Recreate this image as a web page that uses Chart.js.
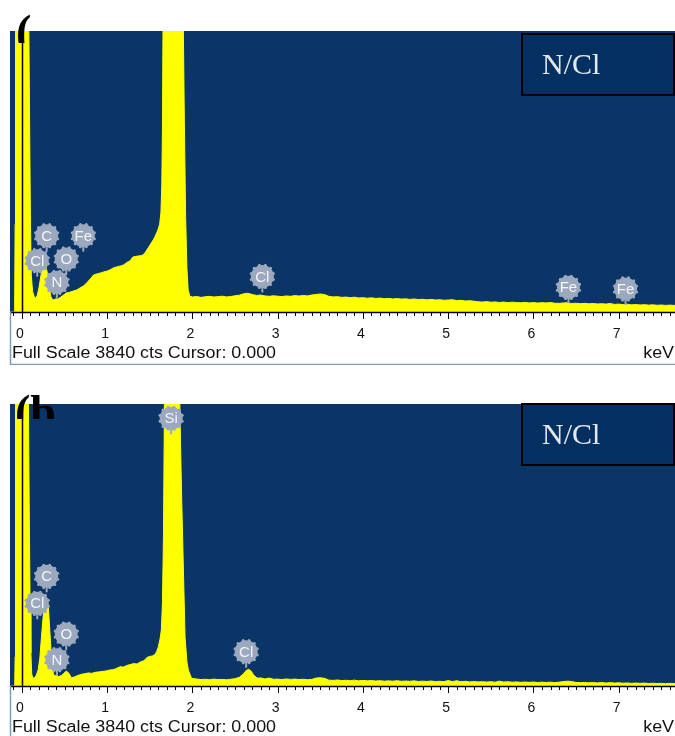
<!DOCTYPE html>
<html>
<head>
<meta charset="utf-8">
<title>EDS spectra N/Cl</title>
<script src="https://cdn.jsdelivr.net/npm/chart.js@4.4.1/dist/chart.umd.min.js"></script>
<style>
  html, body { margin: 0; padding: 0; background: #ffffff; }
  #wrap { position: relative; width: 675px; height: 736px; overflow: hidden; }
  .panel { position: absolute; left: 0; width: 675px; }
  #pa { top: 0; height: 365px; }
  #pb { top: 373px; height: 363px; }
</style>
</head>
<body>
<div id="wrap">
  <div class="panel" id="pa"><canvas id="ca"></canvas></div>
  <div class="panel" id="pb"><canvas id="cb"></canvas></div>
</div>
<script>
// ---- spectrum (a): energy in keV, intensity in counts (off-scale samples kept just above full scale) ----
const energyA = [-0.14, -0.09, -0.085, -0.08, -0.075, -0.06, 0.0, 0.06, 0.08, 0.09, 0.10, 0.11, 0.125, 0.145, 0.165,
  0.18, 0.20, 0.22, 0.24, 0.26, 0.28, 0.30, 0.32, 0.34, 0.36, 0.38, 0.40, 0.42, 0.45, 0.48, 0.52, 0.56, 0.59, 0.64,
  0.68, 0.72, 0.76, 0.80, 0.84, 0.88, 0.92, 0.96, 1.00, 1.04, 1.07, 1.12, 1.16, 1.19, 1.24, 1.27, 1.30, 1.33, 1.36,
  1.39, 1.42, 1.45, 1.48, 1.51, 1.54, 1.56, 1.58, 1.60, 1.615, 1.63, 1.64, 1.648, 1.655, 1.67, 1.72, 1.78, 1.84,
  1.88, 1.893, 1.905, 1.92, 1.935, 1.95, 1.97,
  2.00, 2.05, 2.10, 2.15, 2.20, 2.25, 2.30, 2.35, 2.40, 2.45, 2.50, 2.55, 2.60, 2.65, 2.70, 2.75, 2.80, 2.85, 2.90,
  2.95, 3.00, 3.05, 3.10, 3.15, 3.20, 3.25, 3.30, 3.35, 3.40, 3.45, 3.50, 3.55, 3.60, 3.65, 3.70, 3.75, 3.80, 3.85,
  3.90, 3.95, 4.00, 4.05, 4.10, 4.15, 4.20, 4.25, 4.30, 4.35, 4.40, 4.45, 4.50, 4.55, 4.60, 4.65, 4.70, 4.75, 4.80,
  4.85, 4.90, 4.95, 5.00, 5.05, 5.10, 5.15, 5.20, 5.25, 5.30, 5.35, 5.40, 5.45, 5.50, 5.55, 5.60, 5.65, 5.70, 5.75,
  5.80, 5.85, 5.90, 5.95, 6.00, 6.05, 6.10, 6.15, 6.20, 6.25, 6.30, 6.35, 6.40, 6.45, 6.50, 6.55, 6.60, 6.65, 6.70,
  6.75, 6.80, 6.85, 6.90, 6.95, 7.00, 7.05, 7.10, 7.15, 7.20, 7.25, 7.30, 7.35, 7.40, 7.45, 7.50, 7.55, 7.60, 7.65, 7.70];
const countsA = [0, 0, 150, 1200, 3950, 4600, 4600, 4600, 4000, 2600, 1200, 500, 280, 210, 190,
  230, 330, 480, 600, 660, 640, 520, 340, 210, 165, 170, 180, 176, 200, 225, 260, 270, 282, 300,
  328, 355, 396, 450, 506, 520, 533, 548, 560, 580, 601, 620, 630, 642, 683, 700, 752, 758, 765,
  770, 779, 820, 875, 930, 984, 1030, 1080, 1140, 1200, 1353, 1709, 2500, 3950, 4600, 4600, 4600, 4600,
  4600, 3900, 2600, 1300, 600, 300, 215,
  205, 212, 200, 208, 214, 205, 210, 216, 206, 212, 222, 230, 248, 256, 240, 226, 232, 220, 214,
  222, 216, 210, 220, 214, 224, 218, 226, 220, 232, 240, 246, 238, 214, 206, 210, 200, 204, 196,
  202, 192, 196, 188, 194, 185, 190, 182, 186, 178, 184, 176, 180, 172, 178, 170, 174, 166, 172,
  164, 168, 160, 164, 168, 156, 160, 150, 155, 148, 140, 136, 142, 134, 138, 130, 136, 128, 134,
  130, 126, 132, 124, 130, 122, 128, 124, 130, 120, 118, 124, 126, 116, 120, 114, 118, 112, 116,
  110, 114, 108, 116, 104, 108, 100, 106, 98, 102, 96, 100, 94, 98, 92, 96, 90, 94, 90, 92];

// ---- spectrum (b) ----
const energyB = [-0.14, -0.085, -0.08, -0.075, 0.0, 0.06, 0.075, 0.085, 0.095, 0.105, 0.115, 0.13, 0.15, 0.17,
  0.19, 0.21, 0.23, 0.25, 0.27, 0.29, 0.31, 0.33, 0.35, 0.37, 0.39, 0.41, 0.43, 0.46, 0.49, 0.52, 0.55, 0.58,
  0.62, 0.66, 0.70, 0.74, 0.78, 0.82, 0.86, 0.90, 0.94, 0.98, 1.03, 1.07, 1.11, 1.15, 1.19, 1.23, 1.27, 1.31,
  1.35, 1.39, 1.43, 1.47, 1.50, 1.53, 1.56, 1.58, 1.60, 1.62, 1.635, 1.648, 1.66, 1.672, 1.70, 1.76, 1.82,
  1.845, 1.86, 1.875, 1.894, 1.913, 1.935, 1.952, 1.99,
  2.05, 2.10, 2.15, 2.20, 2.25, 2.30, 2.35, 2.40, 2.45, 2.50, 2.55, 2.60, 2.63, 2.66, 2.69, 2.72, 2.76, 2.80,
  2.85, 2.90, 2.95, 3.00, 3.05, 3.10, 3.15, 3.20, 3.25, 3.30, 3.35, 3.40, 3.45, 3.50, 3.55, 3.60, 3.65, 3.70,
  3.75, 3.80, 3.85, 3.90, 3.95, 4.00, 4.05, 4.10, 4.15, 4.20, 4.25, 4.30, 4.35, 4.40, 4.45, 4.50, 4.55, 4.60,
  4.65, 4.70, 4.75, 4.80, 4.85, 4.90, 4.95, 5.00, 5.05, 5.10, 5.15, 5.20, 5.25, 5.30, 5.35, 5.40, 5.45, 5.50,
  5.55, 5.60, 5.65, 5.70, 5.75, 5.80, 5.85, 5.90, 5.95, 6.00, 6.05, 6.10, 6.15, 6.20, 6.25, 6.30, 6.35, 6.40,
  6.45, 6.50, 6.55, 6.60, 6.65, 6.70, 6.75, 6.80, 6.85, 6.90, 6.95, 7.00, 7.05, 7.10, 7.15, 7.20, 7.25, 7.30,
  7.35, 7.40, 7.45, 7.50, 7.55, 7.60, 7.65, 7.70];
const countsB = [0, 0, 400, 4600, 4600, 4600, 4000, 2500, 1200, 450, 160, 105, 115, 150,
  218, 380, 680, 960, 1150, 1190, 1080, 700, 300, 160, 140, 150, 128, 140, 170, 205, 175, 112,
  125, 145, 160, 168, 178, 172, 186, 192, 198, 204, 218, 222, 240, 262, 258, 280, 292, 305,
  300, 328, 345, 390, 402, 410, 430, 470, 535, 640, 760, 1130, 2030, 3950, 4600, 4600, 4600,
  4300, 3300, 2490, 1580, 671, 330, 218, 105,
  95, 88, 92, 86, 94, 88, 90, 85, 92, 100, 118, 168, 212, 228, 202, 145, 108, 110,
  96, 108, 92, 94, 88, 96, 90, 94, 88, 92, 86, 90, 108, 112, 104, 80, 76, 82,
  74, 78, 72, 80, 70, 76, 70, 74, 68, 72, 66, 70, 66, 72, 64, 68, 64, 70,
  62, 66, 62, 68, 60, 64, 60, 74, 60, 72, 58, 64, 56, 60, 56, 58, 54, 58,
  52, 66, 54, 58, 52, 56, 50, 54, 50, 54, 48, 52, 48, 52, 46, 52, 60, 66,
  60, 48, 46, 48, 44, 46, 42, 48, 40, 46, 40, 44, 38, 42, 36, 40, 36, 40,
  34, 38, 34, 36, 32, 36, 34, 34];

// ---- element line markers: symbol, energy (keV), counts at the stem tip ----
const markerNamesA = ['Cl', 'C', 'N', 'O', 'Fe', 'Cl', 'Fe', 'Fe'];
const markerEnergyA = [0.18, 0.29, 0.41, 0.52, 0.72, 2.82, 6.41, 7.08];
const markerCountsA = [483, 824, 187, 506, 824, 267, 119, 96];

const markerNamesB = ['Si', 'C', 'Cl', 'O', 'N', 'Cl'];
const markerEnergyB = [1.75, 0.29, 0.18, 0.52, 0.41, 2.63];
const markerCountsB = [3428, 1276, 908, 490, 140, 249];

// ---- axis ----
const energyTicks = [0, 1, 2, 3, 4, 5, 6, 7];
const fullScaleCounts = 3840;
const energyMin = -0.14, energyMax = 7.66;
const sampleLabel = 'N/Cl';
const footerText = 'Full Scale 3840 cts Cursor: 0.000';
const unitText = 'keV';

const BLUE = '#0a3566';
const BOX_BLUE = '#033060';
const YELLOW = '#ffff00';
const GREY = '#9ba8bd';

function drawMarker(ctx, x, tipY, label) {
  const cy = tipY - 16, r = 11.5;
  ctx.save();
  ctx.strokeStyle = GREY;
  ctx.lineWidth = 2;
  ctx.beginPath();
  ctx.moveTo(x, cy + r - 2);
  ctx.lineTo(x, tipY);
  ctx.stroke();
  ctx.fillStyle = GREY;
  ctx.beginPath();
  ctx.arc(x, cy, r, 0, Math.PI * 2);
  ctx.fill();
  for (let k = 0; k < 12; k++) {
    const a = k * Math.PI / 6 + Math.PI / 12;
    ctx.beginPath();
    ctx.arc(x + Math.cos(a) * r, cy + Math.sin(a) * r, 1.5, 0, Math.PI * 2);
    ctx.fill();
  }
  ctx.fillStyle = '#f3f5f9';
  ctx.font = '15px "Liberation Sans", Arial, sans-serif';
  ctx.textAlign = 'center';
  ctx.textBaseline = 'middle';
  ctx.fillText(label, x, cy + 1);
  ctx.restore();
}

function makeDecor(cfg) {
  return {
    id: 'spectrumDecor',
    beforeDraw(chart) {
      const { ctx, chartArea: a } = chart;
      ctx.save();
      ctx.fillStyle = BLUE;
      ctx.fillRect(a.left, a.top, a.right - a.left, a.bottom - a.top);
      ctx.restore();
    },
    afterDatasetsDraw(chart) {
      const { ctx, chartArea: a } = chart;
      const xs = chart.scales.x, ys = chart.scales.y;
      ctx.save();

      // cursor line at 0 keV
      const x0 = Math.round(xs.getPixelForValue(0)) + 0.5;
      ctx.strokeStyle = '#000';
      ctx.lineWidth = 1.5;
      ctx.beginPath();
      ctx.moveTo(x0, a.top);
      ctx.lineTo(x0, a.bottom);
      ctx.stroke();

      // element markers
      cfg.names.forEach((n, i) => {
        drawMarker(ctx, xs.getPixelForValue(cfg.energy[i]), ys.getPixelForValue(cfg.counts[i]), n);
      });

      // sample label box
      const bx = 522, by = a.top + cfg.boxOffset, bh = 61;
      ctx.fillStyle = BOX_BLUE;
      ctx.fillRect(bx, by, 160, bh);
      ctx.strokeStyle = '#000';
      ctx.lineWidth = 2;
      ctx.strokeRect(bx, by, 152, bh);
      ctx.fillStyle = '#e4e8ee';
      ctx.font = '30px "Liberation Serif", "Times New Roman", serif';
      ctx.textAlign = 'left';
      ctx.textBaseline = 'alphabetic';
      ctx.fillText(sampleLabel, 542, by + 40);

      // energy axis line and tick marks
      const yb = a.bottom;
      ctx.strokeStyle = '#000';
      ctx.lineWidth = 1.5;
      ctx.beginPath();
      ctx.moveTo(a.left, yb + 0.5);
      ctx.lineTo(a.right, yb + 0.5);
      ctx.stroke();
      ctx.lineWidth = 1;
      for (let i = -1; i <= 77; i++) {
        const e = i / 10;
        if (e < energyMin || e > energyMax) continue;
        const px = Math.round(xs.getPixelForValue(e)) + 0.5;
        const len = (i % 10 === 0) ? 7 : 4;
        ctx.beginPath();
        ctx.moveTo(px, yb);
        ctx.lineTo(px, yb + len);
        ctx.stroke();
      }

      // footer texts
      ctx.fillStyle = '#111';
      ctx.font = '16px "Liberation Sans", Arial, sans-serif';
      ctx.textBaseline = 'middle';
      ctx.textAlign = 'left';
      const w = ctx.measureText(footerText).width;
      const sx = 264 / w;
      ctx.save();
      ctx.translate(12, yb + 42);
      ctx.scale(sx, 1);
      ctx.fillText(footerText, 0, 0);
      ctx.restore();
      ctx.save();
      ctx.translate(674, yb + 42);
      ctx.scale(sx, 1);
      ctx.textAlign = 'right';
      ctx.fillText(unitText, 0, 0);
      ctx.restore();

      // panel frame below the axis
      ctx.strokeStyle = '#7f9bbd';
      ctx.lineWidth = 1.5;
      ctx.beginPath();
      ctx.moveTo(a.left + 0.5, yb);
      ctx.lineTo(a.left + 0.5, yb + 53);
      if (cfg.bottomLine) {
        ctx.moveTo(a.left, yb + 52.5);
        ctx.lineTo(675, yb + 52.5);
      }
      ctx.stroke();

      // panel tag
      ctx.save();
      ctx.beginPath();
      ctx.rect(0, 0, 675, cfg.tagClip);
      ctx.clip();
      ctx.fillStyle = '#000';
      ctx.font = 'bold 46px "Liberation Serif", "Times New Roman", serif';
      ctx.textAlign = 'left';
      ctx.textBaseline = 'alphabetic';
      ctx.fillText(cfg.tag, cfg.tagX, cfg.tagBase);
      ctx.restore();

      ctx.restore();
    }
  };
}

function makeChart(canvasId, energy, counts, axisHeight, decor) {
  const points = energy.map((e, i) => ({ x: e, y: counts[i] }));
  return new Chart(document.getElementById(canvasId), {
    type: 'line',
    data: {
      datasets: [{
        data: points,
        borderColor: YELLOW,
        backgroundColor: YELLOW,
        borderWidth: 1,
        fill: 'origin',
        pointRadius: 0,
        tension: 0
      }]
    },
    options: {
      responsive: true,
      maintainAspectRatio: false,
      animation: false,
      devicePixelRatio: 1,
      layout: { padding: { top: 31, left: 10, right: 0, bottom: 0 } },
      plugins: { legend: { display: false }, tooltip: { enabled: false } },
      events: [],
      scales: {
        x: {
          type: 'linear',
          min: energyMin,
          max: energyMax,
          grid: { display: false, drawTicks: false },
          border: { display: false },
          afterBuildTicks: s => { s.ticks = energyTicks.map(v => ({ value: v })); },
          ticks: {
            autoSkip: false,
            maxRotation: 0,
            padding: 14,
            labelOffset: -2,
            color: '#111',
            font: { family: '"Liberation Sans", Arial, sans-serif', size: 14 },
            callback: v => String(v)
          },
          afterFit: s => { s.height = axisHeight; }
        },
        y: { display: false, min: 0, max: fullScaleCounts }
      }
    },
    plugins: [makeDecor(decor)]
  });
}

makeChart('ca', energyA, countsA, 53, {
  names: markerNamesA, energy: markerEnergyA, counts: markerCountsA,
  boxOffset: 3, bottomLine: true, tag: '(', tagX: 16, tagBase: 47, tagClip: 43
});
makeChart('cb', energyB, countsB, 50, {
  names: markerNamesB, energy: markerEnergyB, counts: markerCountsB,
  boxOffset: 0, bottomLine: false, tag: '(b', tagX: 15, tagBase: 54, tagClip: 46
});
</script>
</body>
</html>
